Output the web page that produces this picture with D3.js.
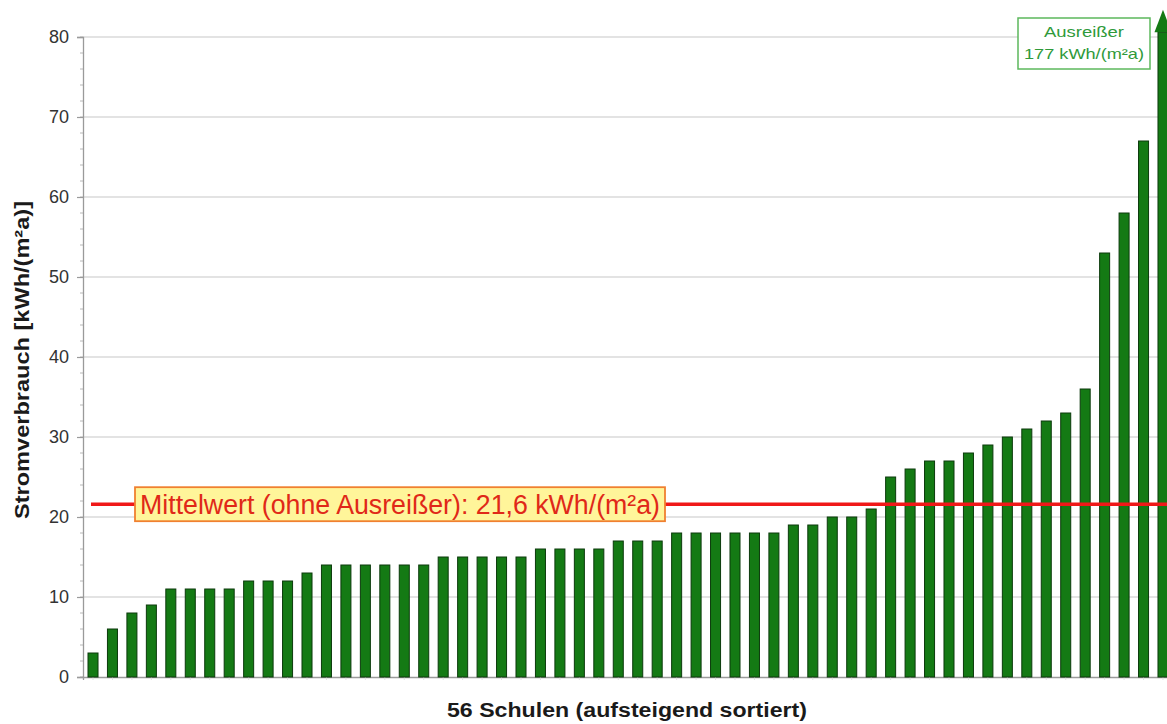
<!DOCTYPE html>
<html>
<head>
<meta charset="utf-8">
<script src="https://cdn.jsdelivr.net/npm/d3@7"></script>
<style>
  html, body { margin: 0; padding: 0; background: #fff; }
  svg { display: block; font-family: "Liberation Sans", Arial, sans-serif; }
</style>
</head>
<body>
<svg id="chart" width="1167" height="724"></svg>
<script>
// Stromverbrauch je Schule, aufsteigend sortiert (kWh/(m²a))
const schools = d3.range(1, 57).map(i => "Schule " + i);
const consumption = [
  3, 6, 8, 9, 11, 11, 11, 11, 12, 12, 12, 13, 14, 14, 14, 14, 14, 14,
  15, 15, 15, 15, 15, 16, 16, 16, 16, 17, 17, 17, 18, 18, 18, 18, 18, 18,
  19, 19, 20, 20, 21, 25, 26, 27, 27, 28, 29, 30, 31, 32, 33, 36, 53, 58, 67, 177
];
const yTicks = [0, 10, 20, 30, 40, 50, 60, 70, 80];
const yMinorTicks = d3.range(0, 81, 2);
const meanValue = 21.6;
const meanLabel = "Mittelwert (ohne Ausreißer): 21,6 kWh/(m²a)";
const outlierLabel = ["Ausreißer", "177 kWh/(m²a)"];
const xTitle = "56 Schulen (aufsteigend sortiert)";
const yTitle = "Stromverbrauch [kWh/(m²a)]";

const svg = d3.select("#chart");
const plotLeft = 83, plotRight = 1173, plotTop = 37, plotBottom = 677;
const yMax = 80;

const x = d3.scaleBand().domain(schools).range([plotLeft, plotRight])
  .paddingInner(0.485).paddingOuter(0.257);
const y = d3.scaleLinear().domain([0, yMax]).range([plotBottom, plotTop]);

// horizontal grid
svg.append("g").selectAll("line").data(yTicks.filter(d => d > 0)).join("line")
  .attr("x1", plotLeft).attr("x2", 1167)
  .attr("y1", d => y(d)).attr("y2", d => y(d))
  .attr("stroke", "#c8c8c8").attr("stroke-width", 1.2);

// minor ticks on y axis
svg.append("g").selectAll("line").data(yMinorTicks).join("line")
  .attr("x1", plotLeft - 3).attr("x2", plotLeft)
  .attr("y1", d => y(d)).attr("y2", d => y(d))
  .attr("stroke", "#b8b8b8").attr("stroke-width", 1);

// y axis
const yAxis = d3.axisLeft(y).tickValues(yTicks).tickSize(6).tickPadding(8);
const gy = svg.append("g").attr("transform", `translate(${plotLeft},0)`).call(yAxis);
gy.select(".domain").attr("stroke", "#9a9a9a").attr("stroke-width", 1.3);
gy.selectAll(".tick line").attr("stroke", "#9a9a9a").attr("stroke-width", 1.2);
gy.selectAll(".tick text").attr("font-size", 18).attr("fill", "#333")
  .attr("font-family", "Liberation Sans, Arial, sans-serif");

// x axis baseline with small category ticks
const xAxis = d3.axisBottom(x).tickFormat("").tickSize(3);
const gx = svg.append("g").attr("transform", `translate(0,${plotBottom})`).call(xAxis);
gx.select(".domain").attr("stroke", "#9a9a9a").attr("stroke-width", 1.3);
gx.selectAll(".tick line").attr("stroke", "#e2e2e2");

// bars (the outlier is cut at the top of the scale and marked with an arrow)
const arrowBase = yMax + 0.6;
const barTop = d => y(Math.min(d, arrowBase));
svg.append("g").selectAll("rect").data(consumption).join("rect")
  .attr("x", (d, i) => x(schools[i]))
  .attr("width", x.bandwidth())
  .attr("y", d => barTop(d))
  .attr("height", d => plotBottom - barTop(d))
  .attr("fill", "#147a14")
  .attr("stroke", "#0c3a0c").attr("stroke-width", 1);

// arrow head on the outlier
consumption.forEach((d, i) => {
  if (d > yMax) {
    const cx = x(schools[i]) + x.bandwidth() / 2;
    const half = x.bandwidth() * 0.85;
    svg.append("path")
      .attr("d", `M${cx - half},${y(arrowBase)} L${cx},${y(yMax + 3.4)} L${cx + half},${y(arrowBase)} Z`)
      .attr("fill", "#147a14");
  }
});

// outlier annotation box
const boxX = 1018, boxY = 18, boxW = 132, boxH = 51;
svg.append("rect").attr("x", boxX).attr("y", boxY).attr("width", boxW).attr("height", boxH)
  .attr("fill", "#ffffff").attr("stroke", "#5cb85c").attr("stroke-width", 1.5);
svg.append("g").selectAll("text").data(outlierLabel).join("text")
  .attr("x", boxX + boxW / 2).attr("y", (d, i) => boxY + 19 + i * 22)
  .attr("text-anchor", "middle").attr("font-size", 15).attr("fill", "#2f9a3a")
  .attr("textLength", (d, i) => i === 0 ? 80 : 120)
  .attr("lengthAdjust", "spacingAndGlyphs")
  .text(d => d);

// mean line
svg.append("line")
  .attr("x1", 91).attr("x2", 1167)
  .attr("y1", y(meanValue)).attr("y2", y(meanValue))
  .attr("stroke", "#f01818").attr("stroke-width", 3.5);

// mean label
const mean = svg.append("g");
mean.append("rect").attr("x", 135).attr("y", y(meanValue) - 17).attr("width", 530).attr("height", 34)
  .attr("fill", "#fff59a").attr("stroke", "#f08030").attr("stroke-width", 1.8);
mean.append("text").attr("x", 400).attr("y", y(meanValue) + 10)
  .attr("text-anchor", "middle").attr("font-size", 27).attr("fill", "#e02818")
  .attr("textLength", 520).attr("lengthAdjust", "spacingAndGlyphs")
  .text(meanLabel);

// axis titles
svg.append("text").attr("x", 627).attr("y", 717).attr("text-anchor", "middle")
  .attr("font-size", 20).attr("font-weight", "bold").attr("fill", "#1a1a1a")
  .attr("textLength", 360).attr("lengthAdjust", "spacingAndGlyphs")
  .text(xTitle);
svg.append("text").attr("transform", "translate(29,360) rotate(-90)")
  .attr("text-anchor", "middle")
  .attr("font-size", 20).attr("font-weight", "bold").attr("fill", "#1a1a1a")
  .attr("textLength", 318).attr("lengthAdjust", "spacingAndGlyphs")
  .text(yTitle);
</script>
</body>
</html>
